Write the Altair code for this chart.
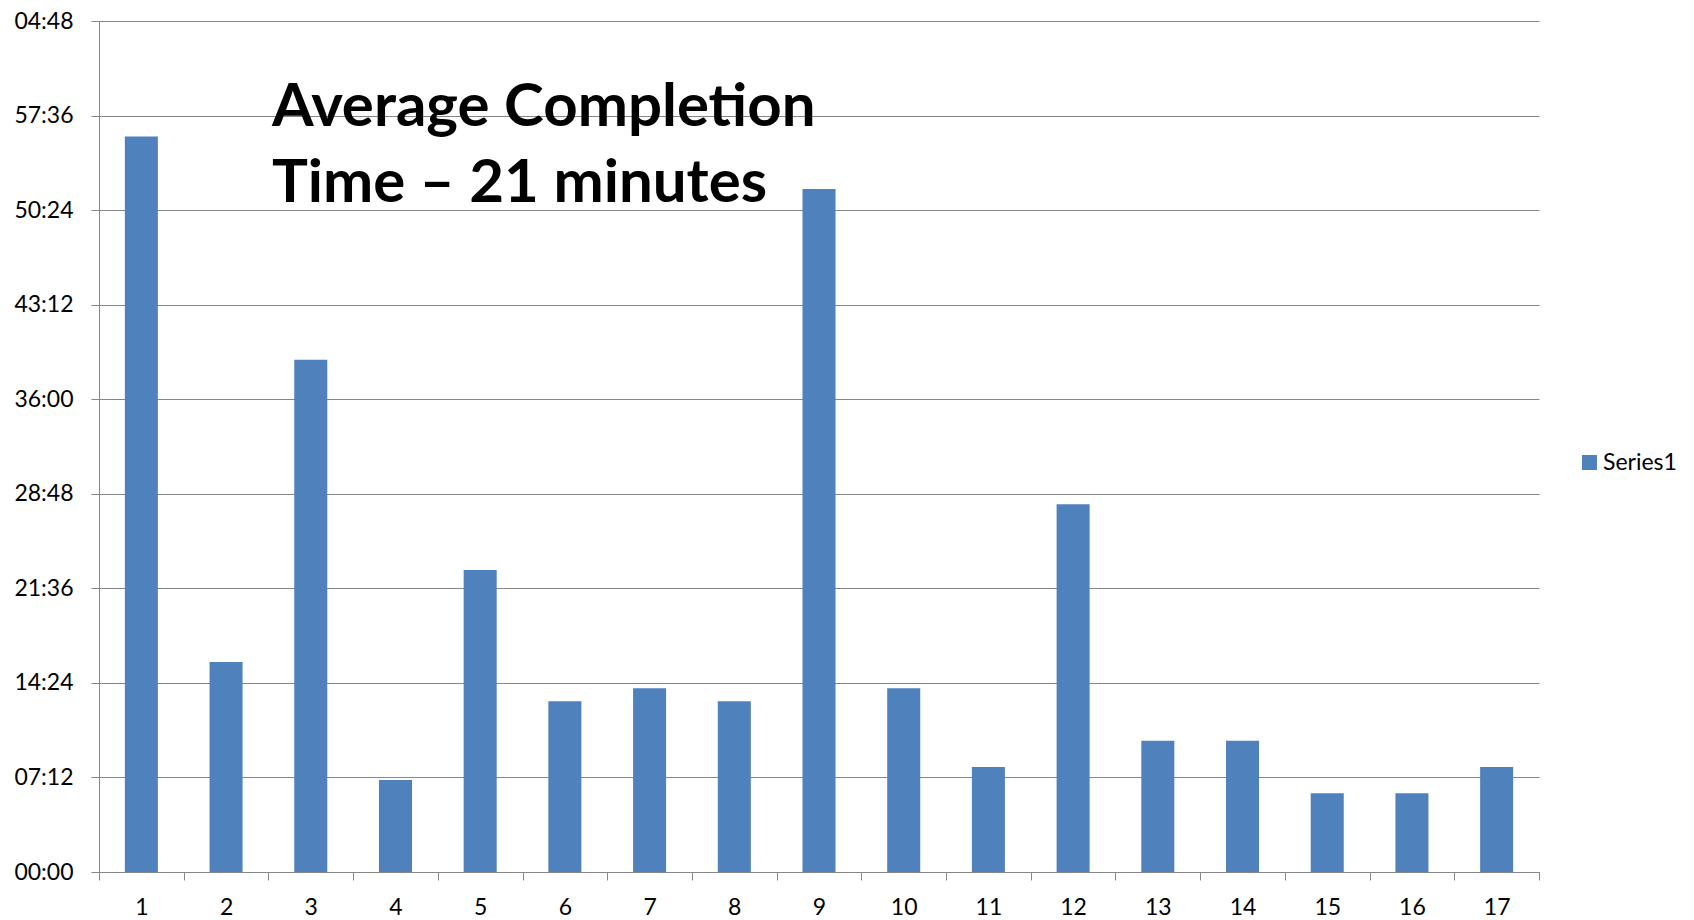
import altair as alt
import pandas as pd

participants = [str(i) for i in range(1, 18)]
minutes = [56, 16, 39, 7, 23, 13, 14, 13, 52, 14, 8, 28, 10, 10, 6, 6, 8]
series = ["Series1"] * len(participants)
y_ticks = [round(k * 7.2, 1) for k in range(10)]
annotation = ["Average Completion", "Time – 21 minutes"]

df = pd.DataFrame({"participant": participants, "minutes": minutes, "series": series})

FONT = "Lato"
GRID = "#868686"

bars = alt.Chart(df).mark_bar(width={"band": 0.39}, color="#4F81BD").encode(
    x=alt.X(
        "participant:O",
        sort=participants,
        scale=alt.Scale(paddingInner=0, paddingOuter=0),
        axis=alt.Axis(
            title=None,
            labelAngle=0,
            tickBand="extent",
            grid=False,
            domainColor=GRID,
            tickColor=GRID,
            tickSize=8,
            labelPadding=16,
            labelFont=FONT,
            labelFontSize=23,
            labelColor="#000000",
        ),
    ),
    y=alt.Y(
        "minutes:Q",
        scale=alt.Scale(domain=[0, 64.8], nice=False),
        axis=alt.Axis(
            title=None,
            values=y_ticks,
            labelExpr="utcFormat(round(datum.value*60)*1000, '%M:%S')",
            grid=True,
            gridColor=GRID,
            gridOpacity=1,
            domainColor=GRID,
            tickColor=GRID,
            tickSize=8,
            labelPadding=18,
            labelFont=FONT,
            labelFontSize=23,
            labelColor="#000000",
        ),
    ),
    color=alt.Color(
        "series:N",
        scale=alt.Scale(range=["#4F81BD"]),
        legend=alt.Legend(
            title=None,
            orient="none",
            legendX=1479,
            legendY=430,
            symbolType="square",
            symbolSize=225,
            symbolStrokeWidth=0,
            symbolOpacity=1,
            labelFont=FONT,
            labelFontSize=23,
            labelColor="#000000",
            labelOffset=2,
            padding=0,
        ),
    ),
)

text = alt.Chart(pd.DataFrame({"t": [annotation]})).mark_text(
    align="left",
    baseline="alphabetic",
    font=FONT,
    fontSize=60,
    fontWeight="bold",
    color="#000000",
    lineHeight=76,
).encode(
    x=alt.value(173),
    y=alt.value(105),
    text="t",
)

chart = alt.layer(bars, text).properties(
    width=1440,
    height=851,
    autosize=alt.AutoSizeParams(type="none"),
    padding={"left": 91, "top": 13, "right": 147, "bottom": 48},
).configure_view(stroke=None)

chart.save("out.html", embed_options={"renderer": "svg", "actions": False})
